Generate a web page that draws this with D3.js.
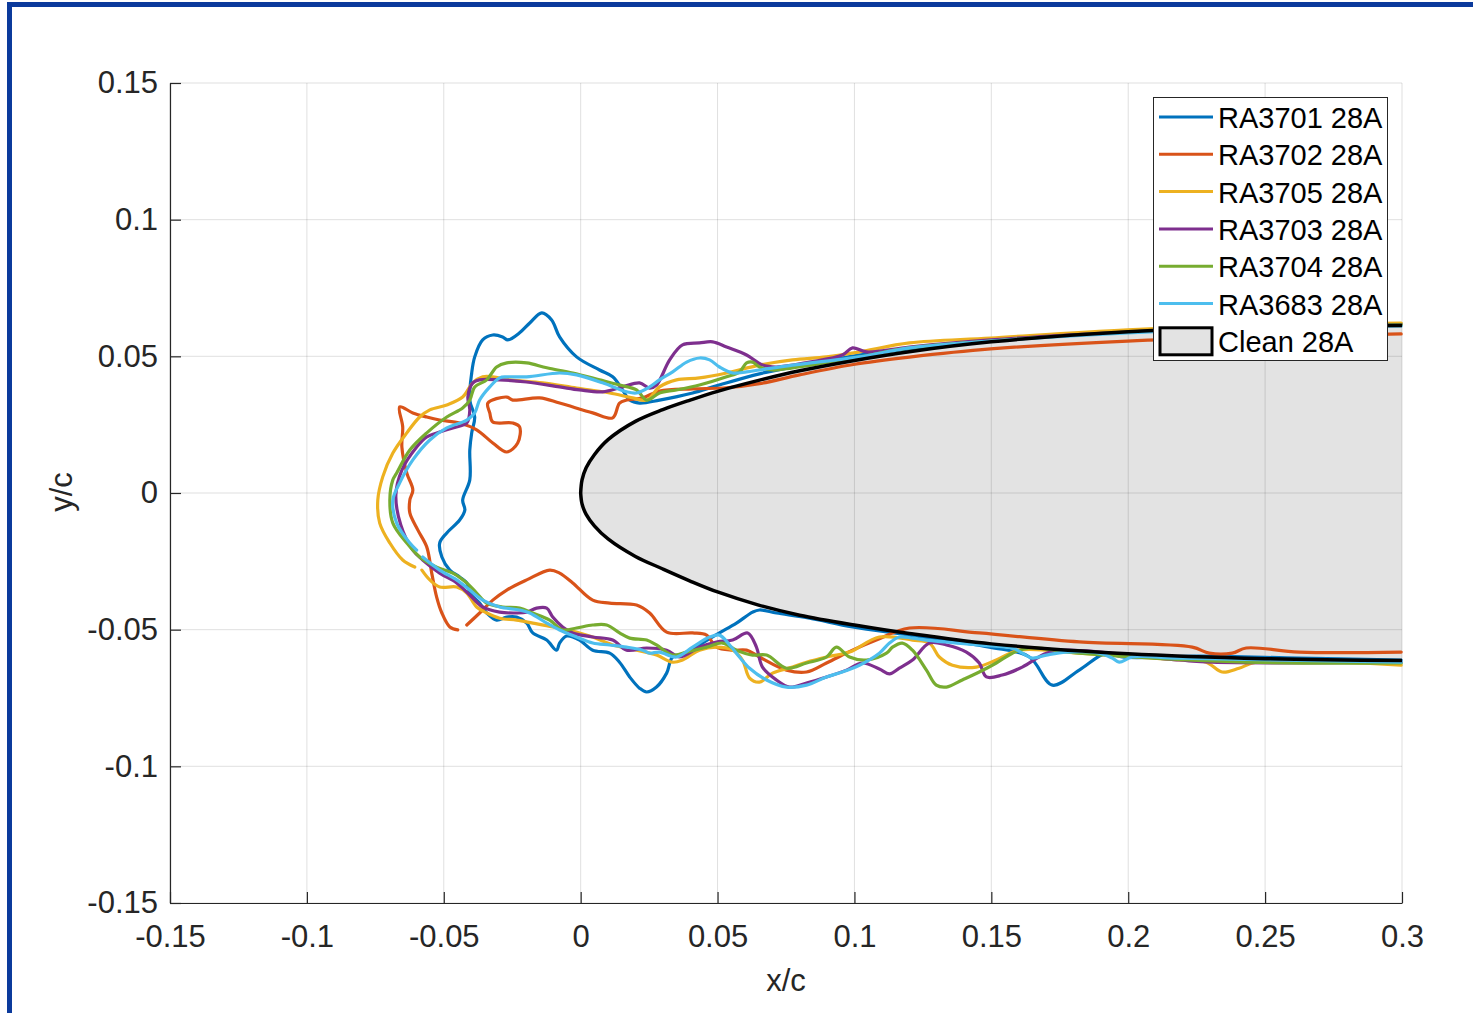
<!DOCTYPE html>
<html>
<head>
<meta charset="utf-8">
<script src="https://cdn.jsdelivr.net/npm/d3@7"></script>
<style>
  body { margin: 0; background: #fff; }
  svg { display: block; font-family: "Liberation Sans", Arial, Helvetica, sans-serif; }
</style>
</head>
<body>
<svg id="chart" width="1473" height="1013"></svg>
<script>
// ---------------- DATA (x/c, y/c) ----------------
const xTicks = [-0.15, -0.1, -0.05, 0, 0.05, 0.1, 0.15, 0.2, 0.25, 0.3];
const xTickLabels = ["-0.15", "-0.1", "-0.05", "0", "0.05", "0.1", "0.15", "0.2", "0.25", "0.3"];
const yTicks = [-0.15, -0.1, -0.05, 0, 0.05, 0.1, 0.15];
const yTickLabels = ["-0.15", "-0.1", "-0.05", "0", "0.05", "0.1", "0.15"];

const seriesNames = ["RA3701 28A", "RA3702 28A", "RA3705 28A", "RA3703 28A", "RA3704 28A", "RA3683 28A"];
const cleanName = "Clean 28A";

// clean airfoil
const cleanX = [0, 0.0005, 0.002, 0.005, 0.01, 0.02, 0.03, 0.04, 0.05, 0.065, 0.08, 0.1, 0.12, 0.15, 0.2, 0.25, 0.3];
const cleanUpper = [0, 0.0048, 0.0092, 0.0140, 0.0195, 0.0262, 0.0305, 0.0340, 0.0372, 0.0412, 0.0447, 0.0485, 0.0517, 0.0553, 0.0590, 0.0608, 0.0613];
const cleanLower = [0, -0.0040, -0.0078, -0.0120, -0.0168, -0.0232, -0.0278, -0.0322, -0.0362, -0.0410, -0.0447, -0.0483, -0.0514, -0.0552, -0.0588, -0.0606, -0.0613];

// ice shapes (null = break in the trace)
const ra3701 = [[0.2997,-0.0611],[0.2624,-0.0604],[0.2259,-0.0597],[0.1978,-0.0600],[0.1920,-0.0586],[0.1821,-0.0648],[0.1723,-0.0703],[0.1639,-0.0600],[0.1493,-0.0564],[0.1201,-0.0520],[0.0993,-0.0490],[0.0836,-0.0458],[0.0715,-0.0439],[0.0653,-0.0428],[0.0628,-0.0436],[0.0569,-0.0476],[0.0507,-0.0512],[0.0445,-0.0549],[0.0387,-0.0586],[0.0336,-0.0600],[0.0314,-0.0659],[0.0277,-0.0710],[0.0241,-0.0728],[0.0215,-0.0714],[0.0179,-0.0673],[0.0142,-0.0619],[0.0106,-0.0586],[0.0044,-0.0575],[-0.0004,-0.0538],[-0.0051,-0.0523],[-0.0077,-0.0549],[-0.0088,-0.0575],[-0.0124,-0.0538],[-0.0175,-0.0512],[-0.0197,-0.0476],[-0.0234,-0.0454],[-0.0270,-0.0454],[-0.0307,-0.0465],[-0.0343,-0.0439],[-0.0369,-0.0403],[-0.0405,-0.0366],[-0.0416,-0.0329],[-0.0442,-0.0307],[-0.0478,-0.0282],[-0.0507,-0.0234],[-0.0515,-0.0183],[-0.0489,-0.0146],[-0.0442,-0.0099],[-0.0423,-0.0062],[-0.0431,-0.0026],[-0.0405,0.0048],[-0.0405,0.0157],[-0.0398,0.0220],[-0.0387,0.0278],[-0.0405,0.0340],[-0.0398,0.0439],[-0.0387,0.0498],[-0.0358,0.0560],[-0.0321,0.0578],[-0.0285,0.0571],[-0.0266,0.0560],[-0.0223,0.0586],[-0.0186,0.0622],[-0.0142,0.0659],[-0.0106,0.0633],[-0.0077,0.0571],[-0.0015,0.0498],[0.0069,0.0450],[0.0117,0.0425],[0.0153,0.0377],[0.0179,0.0340],[0.0215,0.0329],[0.0288,0.0340],[0.0409,0.0366],[0.0496,0.0392],[0.0653,0.0436],[0.0799,0.0465],[0.0996,0.0501],[0.1201,0.0527],[0.1497,0.0556],[0.1997,0.0589],[0.2497,0.0608],[0.2997,0.0619]];

const ra3702 = [[0.2997,-0.0582],[0.2624,-0.0582],[0.2431,-0.0567],[0.2380,-0.0586],[0.2296,-0.0586],[0.2234,-0.0564],[0.1821,-0.0545],[0.1456,-0.0512],[0.1201,-0.0494],[0.1080,-0.0538],[0.0993,-0.0575],[0.0898,-0.0622],[0.0825,-0.0655],[0.0752,-0.0648],[0.0653,-0.0600],[0.0606,-0.0575],[0.0555,-0.0575],[0.0496,-0.0564],[0.0460,-0.0520],[0.0409,-0.0512],[0.0314,-0.0509],[0.0252,-0.0439],[0.0204,-0.0410],[0.0106,-0.0403],[0.0044,-0.0392],[-0.0029,-0.0329],[-0.0077,-0.0293],[-0.0113,-0.0282],[-0.0197,-0.0318],[-0.0270,-0.0355],[-0.0321,-0.0392],[-0.0369,-0.0439],[-0.0416,-0.0483],
  null,
  [-0.0449,-0.0501],[-0.0478,-0.0490],[-0.0507,-0.0439],[-0.0526,-0.0381],[-0.0544,-0.0293],[-0.0562,-0.0198],[-0.0595,-0.0135],[-0.0624,-0.0073],[-0.0624,-0.0026],[-0.0613,0.0011],[-0.0635,0.0073],[-0.0653,0.0168],[-0.0650,0.0242],[-0.0661,0.0315],[-0.0613,0.0293],[-0.0562,0.0278],[-0.0515,0.0267],[-0.0442,0.0256],[-0.0380,0.0231],[-0.0321,0.0183],[-0.0270,0.0150],[-0.0230,0.0183],[-0.0223,0.0242],[-0.0248,0.0256],[-0.0321,0.0260],[-0.0332,0.0293],[-0.0339,0.0329],[-0.0270,0.0351],[-0.0248,0.0340],[-0.0150,0.0348],[-0.0077,0.0329],[0.0044,0.0293],[0.0117,0.0275],[0.0142,0.0329],[0.0168,0.0340],[0.0226,0.0348],[0.0288,0.0373],[0.0409,0.0381],[0.0533,0.0385],[0.0653,0.0400],[0.0799,0.0432],[0.0996,0.0470],[0.1201,0.0497],[0.1497,0.0527],[0.1997,0.0556],[0.2497,0.0571],[0.2997,0.0582]];

const ra3705 = [[0.2997,-0.0630],[0.2467,-0.0619],[0.2405,-0.0641],[0.2343,-0.0655],[0.2285,-0.0619],[0.2186,-0.0611],[0.1821,-0.0586],[0.1602,-0.0575],[0.1518,-0.0611],[0.1445,-0.0637],[0.1358,-0.0630],[0.1310,-0.0600],[0.1274,-0.0549],[0.1212,-0.0538],[0.1091,-0.0527],[0.0982,-0.0582],[0.0898,-0.0600],[0.0825,-0.0619],[0.0774,-0.0637],[0.0701,-0.0659],[0.0653,-0.0692],[0.0617,-0.0677],[0.0591,-0.0611],[0.0555,-0.0575],[0.0496,-0.0564],[0.0434,-0.0575],[0.0372,-0.0611],[0.0336,-0.0619],[0.0277,-0.0593],[0.0204,-0.0575],[0.0117,-0.0556],[0.0044,-0.0527],[-0.0004,-0.0512],[-0.0051,-0.0501],[-0.0102,-0.0490],[-0.0175,-0.0476],[-0.0234,-0.0465],[-0.0296,-0.0458],[-0.0343,-0.0439],[-0.0380,-0.0417],[-0.0416,-0.0366],[-0.0453,-0.0344],[-0.0515,-0.0344],[-0.0551,-0.0318],[-0.0580,-0.0282],
  null,
  [-0.0606,-0.0271],[-0.0650,-0.0245],[-0.0697,-0.0183],[-0.0734,-0.0110],[-0.0741,-0.0026],[-0.0723,0.0059],[-0.0686,0.0146],[-0.0635,0.0220],[-0.0588,0.0278],[-0.0551,0.0304],[-0.0489,0.0322],[-0.0431,0.0351],[-0.0394,0.0403],[-0.0358,0.0425],[-0.0321,0.0425],[-0.0259,0.0414],[-0.0139,0.0403],[-0.0015,0.0384],[0.0106,0.0366],[0.0190,0.0348],[0.0241,0.0340],[0.0288,0.0388],[0.0350,0.0414],[0.0434,0.0421],[0.0533,0.0439],[0.0653,0.0468],[0.0774,0.0487],[0.0898,0.0498],[0.1018,0.0516],[0.1201,0.0549],[0.1497,0.0567],[0.1997,0.0597],[0.2497,0.0615],[0.2997,0.0622]];

const ra3703 = [[0.2997,-0.0619],[0.2307,-0.0619],[0.2186,-0.0611],[0.1774,-0.0575],[0.1701,-0.0586],[0.1613,-0.0637],[0.1540,-0.0666],[0.1482,-0.0673],[0.1456,-0.0622],[0.1409,-0.0582],[0.1336,-0.0556],[0.1274,-0.0549],[0.1212,-0.0611],[0.1164,-0.0641],[0.1128,-0.0662],[0.1091,-0.0644],[0.1029,-0.0622],[0.0971,-0.0648],[0.0898,-0.0673],[0.0825,-0.0695],[0.0763,-0.0710],[0.0715,-0.0684],[0.0664,-0.0637],[0.0642,-0.0564],[0.0610,-0.0512],[0.0555,-0.0538],[0.0496,-0.0545],[0.0434,-0.0564],[0.0361,-0.0600],[0.0314,-0.0575],[0.0241,-0.0567],[0.0168,-0.0575],[0.0117,-0.0538],[0.0044,-0.0527],[-0.0029,-0.0512],[-0.0066,-0.0490],[-0.0102,-0.0454],[-0.0124,-0.0421],[-0.0161,-0.0421],[-0.0197,-0.0436],[-0.0234,-0.0439],[-0.0296,-0.0436],[-0.0358,-0.0417],[-0.0405,-0.0373],[-0.0453,-0.0329],[-0.0515,-0.0293],[-0.0577,-0.0245],[-0.0613,-0.0209],[-0.0657,-0.0117],[-0.0675,-0.0007],[-0.0653,0.0084],[-0.0599,0.0168],[-0.0562,0.0205],[-0.0515,0.0223],[-0.0467,0.0238],[-0.0416,0.0256],[-0.0405,0.0304],[-0.0412,0.0351],[-0.0394,0.0403],[-0.0369,0.0414],[-0.0296,0.0414],[-0.0197,0.0406],[-0.0077,0.0388],[-0.0004,0.0377],[0.0080,0.0370],[0.0153,0.0388],[0.0215,0.0403],[0.0252,0.0384],[0.0277,0.0395],[0.0325,0.0487],[0.0372,0.0542],[0.0434,0.0549],[0.0482,0.0553],[0.0533,0.0534],[0.0606,0.0505],[0.0664,0.0468],[0.0715,0.0461],[0.0836,0.0479],[0.0956,0.0505],[0.0993,0.0531],[0.1044,0.0516],[0.1201,0.0534],[0.1497,0.0560],[0.1997,0.0589],[0.2497,0.0608],[0.2997,0.0615]];

const ra3704 = [[0.2997,-0.0622],[0.2431,-0.0619],[0.1821,-0.0586],[0.1639,-0.0567],[0.1577,-0.0586],[0.1518,-0.0622],[0.1456,-0.0655],[0.1394,-0.0684],[0.1336,-0.0710],[0.1299,-0.0703],[0.1263,-0.0648],[0.1212,-0.0575],[0.1175,-0.0549],[0.1139,-0.0564],[0.1117,-0.0586],[0.1044,-0.0611],[0.0982,-0.0600],[0.0934,-0.0564],[0.0898,-0.0600],[0.0825,-0.0622],[0.0752,-0.0641],[0.0679,-0.0593],[0.0628,-0.0593],[0.0569,-0.0575],[0.0518,-0.0549],[0.0460,-0.0564],[0.0387,-0.0582],[0.0336,-0.0593],[0.0277,-0.0556],[0.0241,-0.0538],[0.0179,-0.0531],[0.0142,-0.0512],[0.0095,-0.0483],[0.0044,-0.0483],[-0.0015,-0.0494],[-0.0066,-0.0501],[-0.0113,-0.0465],[-0.0175,-0.0439],[-0.0223,-0.0421],[-0.0285,-0.0417],[-0.0343,-0.0403],[-0.0380,-0.0366],[-0.0416,-0.0329],[-0.0467,-0.0293],[-0.0526,-0.0271],[-0.0588,-0.0234],[-0.0635,-0.0183],[-0.0686,-0.0110],[-0.0697,-0.0026],[-0.0686,0.0048],[-0.0672,0.0073],[-0.0624,0.0157],[-0.0562,0.0220],[-0.0489,0.0278],[-0.0431,0.0311],[-0.0405,0.0340],[-0.0387,0.0388],[-0.0343,0.0414],[-0.0307,0.0461],[-0.0270,0.0476],[-0.0197,0.0476],[-0.0124,0.0458],[-0.0029,0.0439],[0.0069,0.0414],[0.0142,0.0395],[0.0204,0.0377],[0.0241,0.0340],[0.0288,0.0366],[0.0350,0.0377],[0.0434,0.0395],[0.0533,0.0425],[0.0580,0.0443],[0.0606,0.0476],[0.0628,0.0479],[0.0653,0.0461],[0.0701,0.0450],[0.0774,0.0458],[0.1018,0.0498],[0.1201,0.0531],[0.1497,0.0556],[0.1997,0.0589],[0.2497,0.0608],[0.2997,0.0615]];

const ra3683 = [[0.2997,-0.0619],[0.2186,-0.0604],[0.2015,-0.0600],[0.1967,-0.0619],[0.1942,-0.0604],[0.1894,-0.0586],[0.1774,-0.0582],[0.1701,-0.0593],[0.1650,-0.0604],[0.1613,-0.0586],[0.1577,-0.0567],[0.1456,-0.0556],[0.1263,-0.0538],[0.1212,-0.0531],[0.1164,-0.0527],[0.1128,-0.0549],[0.1091,-0.0586],[0.1018,-0.0630],[0.0956,-0.0655],[0.0898,-0.0673],[0.0825,-0.0703],[0.0752,-0.0710],[0.0679,-0.0684],[0.0617,-0.0641],[0.0580,-0.0600],[0.0544,-0.0556],[0.0507,-0.0520],[0.0471,-0.0527],[0.0409,-0.0564],[0.0350,-0.0600],[0.0288,-0.0582],[0.0252,-0.0586],[0.0226,-0.0575],[0.0168,-0.0564],[0.0106,-0.0556],[0.0044,-0.0549],[-0.0015,-0.0527],[-0.0077,-0.0501],[-0.0124,-0.0476],[-0.0186,-0.0439],[-0.0223,-0.0428],[-0.0296,-0.0417],[-0.0358,-0.0392],[-0.0405,-0.0355],[-0.0453,-0.0318],[-0.0515,-0.0282],[-0.0577,-0.0234],
  null,
  [-0.0599,-0.0209],[-0.0624,-0.0183],[-0.0672,-0.0110],[-0.0686,-0.0026],[-0.0661,0.0037],[-0.0613,0.0121],[-0.0551,0.0194],[-0.0489,0.0238],[-0.0416,0.0267],[-0.0387,0.0293],[-0.0369,0.0340],[-0.0332,0.0388],[-0.0296,0.0421],[-0.0270,0.0425],[-0.0197,0.0425],[-0.0077,0.0439],[-0.0015,0.0432],[0.0080,0.0403],[0.0168,0.0370],[0.0204,0.0366],[0.0252,0.0388],[0.0288,0.0414],[0.0336,0.0443],[0.0387,0.0479],[0.0434,0.0494],[0.0471,0.0487],[0.0507,0.0461],[0.0555,0.0439],[0.0606,0.0443],[0.0653,0.0450],[0.0774,0.0468],[0.1018,0.0498],[0.1201,0.0531],[0.1497,0.0556],[0.1997,0.0586],[0.2497,0.0604],[0.2997,0.0611]];

const iceSeries = [ra3701, ra3702, ra3705, ra3703, ra3704, ra3683];
const seriesColors = ["#0072BD", "#D95319", "#EDB120", "#7E2F8E", "#77AC30", "#4DBEEE"];

// ---------------- DRAWING ----------------
const svg = d3.select("#chart");
const W = 1473, H = 1013;
const L = 170, R = 1402, T = 83, B = 903;
const x = d3.scaleLinear().domain([-0.15, 0.3]).range([L, R]);
const y = d3.scaleLinear().domain([-0.15, 0.15]).range([B, T]);
const textColor = "#262626";
const fontSize = 31;

svg.append("rect").attr("width", W).attr("height", H).attr("fill", "#fff");

// outer blue frame
svg.append("rect").attr("x", 7).attr("y", 2).attr("width", W - 7).attr("height", 5).attr("fill", "#0b3a9c");
svg.append("rect").attr("x", 7).attr("y", 2).attr("width", 5).attr("height", H - 2).attr("fill", "#0b3a9c");

// line generators
const smoothGen = d3.line().defined(d => d !== null).x(d => x(d[0])).y(d => y(d[1]))
  .curve(d3.curveCatmullRom.alpha(0.5));

// clean airfoil fill
const upperPts = cleanX.map((v, i) => [v, cleanUpper[i]]);
const lowerPts = cleanX.map((v, i) => [v, cleanLower[i]]);
const upperD = smoothGen(upperPts);
const lowerRevD = smoothGen(lowerPts.slice().reverse());
svg.append("path").attr("d", upperD + "L" + lowerRevD.slice(1) + "Z").attr("fill", "#e3e3e3").attr("stroke", "none");

// grid
const grid = svg.append("g");
grid.selectAll("line.gx").data(xTicks).join("line")
  .attr("x1", d => x(d)).attr("x2", d => x(d)).attr("y1", T).attr("y2", B)
  .attr("stroke", "rgba(38,38,38,0.14)").attr("stroke-width", 1);
grid.selectAll("line.gy").data(yTicks).join("line")
  .attr("y1", d => y(d)).attr("y2", d => y(d)).attr("x1", L).attr("x2", R)
  .attr("stroke", "rgba(38,38,38,0.14)").attr("stroke-width", 1);

// axes
const xAxis = d3.axisBottom(x).tickValues(xTicks).tickFormat((d, i) => xTickLabels[i])
  .tickSizeInner(-11).tickSizeOuter(0).tickPadding(22);
const yAxis = d3.axisLeft(y).tickValues(yTicks).tickFormat((d, i) => yTickLabels[i])
  .tickSizeInner(-11).tickSizeOuter(0).tickPadding(12);
const gx = svg.append("g").attr("transform", `translate(0,${B})`).call(xAxis);
const gy = svg.append("g").attr("transform", `translate(${L},0)`).call(yAxis);
[gx, gy].forEach(g => {
  g.attr("font-family", null).attr("font-size", null);
  g.select(".domain").attr("stroke", textColor).attr("stroke-width", 1.2);
  g.selectAll(".tick line").attr("stroke", textColor).attr("stroke-width", 1.2);
  g.selectAll(".tick text").attr("fill", textColor).style("font-size", fontSize + "px")
    .style("font-family", '"Liberation Sans", Arial, sans-serif');
});

// axis labels
svg.append("text").attr("x", 786).attr("y", 991).attr("text-anchor", "middle")
  .attr("fill", textColor).style("font-size", fontSize + "px").text("x/c");
svg.append("text").attr("transform", "translate(72,492) rotate(-90)").attr("text-anchor", "middle")
  .attr("fill", textColor).style("font-size", fontSize + "px").text("y/c");

// ice shapes
const gLines = svg.append("g");
iceSeries.forEach((s, i) => {
  gLines.append("path").attr("d", smoothGen(s)).attr("fill", "none")
    .attr("stroke", seriesColors[i]).attr("stroke-width", 3.2)
    .attr("stroke-linejoin", "round").attr("stroke-linecap", "round");
});

// clean airfoil outline
svg.append("path").attr("d", upperD).attr("fill", "none").attr("stroke", "#000").attr("stroke-width", 3.5);
svg.append("path").attr("d", smoothGen(lowerPts)).attr("fill", "none").attr("stroke", "#000").attr("stroke-width", 3.5);

// legend
const lg = svg.append("g");
lg.append("rect").attr("x", 1153.5).attr("y", 97.5).attr("width", 234).attr("height", 263)
  .attr("fill", "#fff").attr("stroke", textColor).attr("stroke-width", 1);
const rowY0 = 117, rowStep = 37.3;
seriesNames.forEach((name, i) => {
  const ry = rowY0 + i * rowStep;
  lg.append("line").attr("x1", 1159).attr("x2", 1213).attr("y1", ry).attr("y2", ry)
    .attr("stroke", seriesColors[i]).attr("stroke-width", 3);
  lg.append("text").attr("x", 1218).attr("y", ry + 11).attr("fill", "#000")
    .style("font-size", "29px").text(name);
});
const cy = rowY0 + 6 * rowStep;
lg.append("rect").attr("x", 1160).attr("y", cy - 13).attr("width", 52).attr("height", 27)
  .attr("fill", "#e3e3e3").attr("stroke", "#000").attr("stroke-width", 3);
lg.append("text").attr("x", 1218).attr("y", cy + 11).attr("fill", "#000")
  .style("font-size", "29px").text(cleanName);
</script>
</body>
</html>
